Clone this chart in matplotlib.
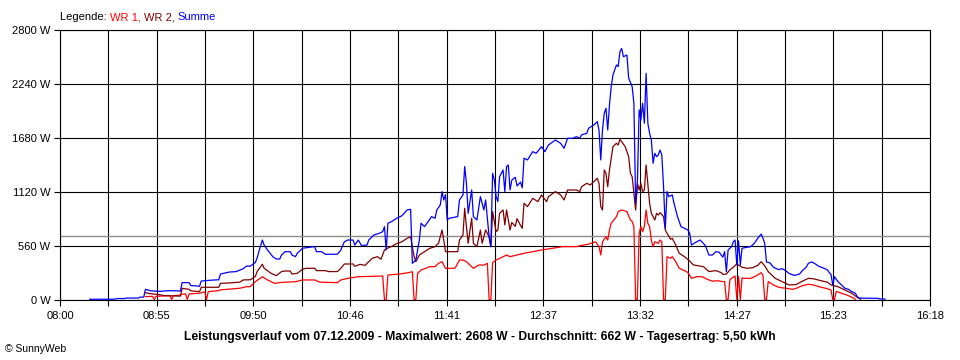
import matplotlib
matplotlib.use("Agg")
import matplotlib.pyplot as plt
import numpy as np

plt.rcParams['font.family'] = ['Liberation Sans', 'DejaVu Sans']

# ---------------- data ----------------
x_tick_labels = ["08:00", "08:55", "09:50", "10:46", "11:41",
                 "12:37", "13:32", "14:27", "15:23", "16:18"]
y_ticks = [0, 560, 1120, 1680, 2240, 2800]
y_tick_labels = ["0 W", "560 W", "1120 W", "1680 W", "2240 W", "2800 W"]
avg_w = 662
title = ("Leistungsverlauf vom 07.12.2009 - Maximalwert: 2608 W - "
         "Durchschnitt: 662 W - Tagesertrag: 5,50 kWh")

summe = [("08:17",2),("08:31",3),("08:33",10),("08:37",10),("08:38",15),("08:45",15),
 ("08:46",25),("08:48",25),("08:49",106),("08:52",90),("08:57",85),("09:03",92),("09:09",88),
 ("09:10",175),("09:14",175),("09:15",145),("09:20",138),("09:21",192),("09:26",200),("09:31",205),
 ("09:32",265),("09:37",285),("09:41",290),("09:45",320),("09:47",348),("09:49",345),("09:52",385),
 ("09:53",430),("09:54",497),("09:56",618),("09:57",566),("09:59",514),("10:02",445),("10:04",421),
 ("10:06",421),("10:07",462),("10:09",497),("10:12",497),("10:13",462),("10:15",445),("10:16",480),
 ("10:19",532),("10:20",535),("10:26",550),("10:27",497),("10:30",497),("10:32",470),("10:39",470),
 ("10:41",514),("10:43",600),("10:45",618),("10:48",618),("10:49",566),("10:51",618),("10:53",556),
 ("10:55",566),("10:56",566),("10:57",618),("11:00",670),("11:03",688),("11:05",705),("11:06",757),
 ("11:07",514),("11:08",792),("11:10",809),("11:13",844),("11:16",870),("11:19",930),("11:21",937),
 ("11:22",376),("11:24",410),("11:26",618),("11:27",792),("11:29",757),("11:31",809),("11:33",861),
 ("11:35",844),("11:36",930),("11:38",982),("11:39",1121),("11:40",1034),("11:41",1090),("11:42",826),
 ("11:43",844),("11:48",861),("11:49",1034),("11:51",1086),("11:52",1381),("11:53",1207),("11:54",895),
 ("11:56",1138),("11:57",861),("11:59",826),("12:01",1069),("12:03",930),("12:04",1034),("12:06",652),
 ("12:07",549),("12:08",1311),("12:09",1242),("12:10",1069),("12:11",1017),("12:12",1276),("12:14",1346),
 ("12:15",1121),("12:16",1381),("12:17",1398),("12:18",1138),("12:19",1240),("12:21",1270),("12:22",1180),
 ("12:24",1220),("12:25",1160),("12:26",1467),("12:28",1450),("12:31",1536),("12:33",1519),("12:36",1588),
 ("12:38",1536),("12:40",1605),("12:44",1657),("12:47",1623),("12:49",1571),("12:51",1675),("12:54",1675),
 ("12:56",1692),("12:58",1675),("12:59",1710),("13:02",1727),("13:03",1779),("13:06",1813),("13:08",1848),
 ("13:09",1761),("13:10",1450),("13:11",1761),("13:12",1935),("13:13",1987),("13:14",1761),("13:15",2021),
 ("13:16",2212),("13:17",2333),("13:19",2437),("13:20",2420),("13:21",2575),("13:22",2608),("13:23",2523),
 ("13:25",2540),("13:26",2300),("13:28",2212),("13:29",2038),("13:30",1000),("13:31",1207),("13:32",1970),
 ("13:33",1865),("13:34",2038),("13:35",1831),("13:36",2350),("13:37",1831),("13:38",1727),("13:39",1657),
 ("13:40",1415),("13:41",1519),("13:42",1484),("13:43",1502),("13:44",1553),("13:45",1502),("13:46",1172),
 ("13:47",740),("13:48",1121),("13:49",1069),("13:51",1086),("13:52",1000),("13:54",861),("13:56",757),
 ("13:58",740),("14:00",722),("14:01",688),("14:02",566),("14:05",600),("14:07",618),("14:09",580),
 ("14:10",560),("14:12",462),("14:14",462),("14:16",497),("14:18",490),("14:19",462),("14:20",440),
 ("14:21",497),("14:22",289),("14:23",514),("14:25",549),("14:26",600),("14:27",618),("14:28",358),
 ("14:29",610),("14:30",358),("14:31",532),("14:33",540),("14:36",549),("14:38",583),("14:40",636),
 ("14:42",680),("14:43",636),("14:44",583),("14:45",390),("14:47",380),("14:49",335),("14:52",310),
 ("14:54",320),("14:56",300),("14:58",270),("15:01",250),("15:04",265),("15:05",289),("15:08",341),
 ("15:09",376),("15:11",390),("15:13",370),("15:15",345),("15:18",324),("15:20",307),("15:21",279),
 ("15:22",260),("15:23",150),("15:24",237),("15:25",210),("15:26",186),("15:28",151),("15:30",116),
 ("15:32",106),("15:34",81),("15:36",64),("15:37",30),("15:38",15),("15:49",12),("15:50",5),("15:53",5)]

wr2 = [("08:49",70),("08:52",60),("08:57",50),("09:00",40),("09:09",35),("09:10",116),("09:14",106),
 ("09:15",90),("09:20",82),("09:21",127),("09:31",127),("09:32",168),("09:37",172),("09:43",180),
 ("09:45",203),("09:49",205),("09:50",215),("09:52",240),("09:53",290),("09:56",366),("09:57",325),
 ("10:01",272),("10:04",248),("10:07",290),("10:09",296),("10:12",296),("10:13",265),("10:16",272),
 ("10:19",314),("10:21",324),("10:26",324),("10:27",300),("10:32",300),("10:34",290),("10:39",290),
 ("10:41",324),("10:43",369),("10:48",369),("10:49",345),("10:52",365),("10:55",355),("10:56",376),
 ("10:59",428),("11:02",445),("11:04",418),("11:06",514),("11:08",535),("11:10",550),("11:13",580),
 ("11:16",600),("11:19",636),("11:21",652),("11:23",445),("11:24",393),("11:26",462),("11:29",497),
 ("11:32",532),("11:35",549),("11:37",584),("11:39",722),("11:40",618),("11:41",497),("11:48",497),
 ("11:49",618),("11:51",670),("11:52",948),("11:53",757),("11:54",584),("11:56",844),("11:57",584),
 ("11:59",549),("12:01",722),("12:02",584),("12:04",722),("12:06",652),("12:07",549),("12:08",913),
 ("12:10",705),("12:11",722),("12:12",895),("12:14",930),("12:15",775),("12:16",930),("12:18",722),
 ("12:19",800),("12:21",760),("12:22",840),("12:24",770),("12:25",740),("12:26",1000),("12:28",965),
 ("12:31",1051),("12:34",1017),("12:36",1086),("12:39",1017),("12:40",1069),("12:44",1121),("12:47",1086),
 ("12:49",1034),("12:51",1138),("12:54",1138),("12:56",1138),("12:58",1121),("12:59",1172),("13:02",1207),
 ("13:04",1190),("13:06",1224),("13:08",1259),("13:09",1207),("13:10",965),("13:11",930),("13:12",1346),
 ("13:13",1311),("13:14",1172),("13:15",1346),("13:16",1467),("13:17",1588),("13:19",1623),("13:20",1605),
 ("13:21",1664),("13:22",1640),("13:24",1588),("13:26",1484),("13:27",1311),("13:28",1276),("13:29",1103),
 ("13:30",930),("13:31",1207),("13:32",1138),("13:33",1207),("13:34",1121),("13:35",1138),("13:36",1398),
 ("13:37",1200),("13:38",1000),("13:39",895),("13:41",826),("13:42",895),("13:43",878),("13:44",902),
 ("13:46",861),("13:47",722),("13:48",688),("13:50",626),("13:51",636),("13:53",566),("13:55",480),
 ("13:58",445),("14:01",400),("14:03",360),("14:06",350),("14:09",340),("14:12",290),("14:16",300),
 ("14:19",280),("14:20",260),("14:22",265),("14:24",307),("14:26",335),("14:28",370),("14:31",335),
 ("14:34",324),("14:37",330),("14:40",355),("14:42",393),("14:44",350),("14:46",290),("14:50",220),
 ("14:54",185),("14:58",151),("15:02",155),("15:05",185),("15:09",220),("15:12",215),("15:17",192),
 ("15:20",180),("15:22",151),("15:26",133),("15:30",99),("15:34",64),("15:36",36),("15:38",12),("15:39",3)]

wr1 = [("08:49",30),("08:53",33),("08:54",0),("08:55",33),("09:00",38),("09:03",40),("09:04",0),
 ("09:05",40),("09:09",45),("09:10",55),("09:12",58),("09:13",0),("09:14",58),("09:17",62),("09:20",65),
 ("09:23",80),("09:24",0),("09:25",82),("09:31",92),("09:32",100),("09:43",117),("09:47",133),("09:49",133),
 ("09:52",185),("09:56",237),("09:59",203),("10:03",168),("10:07",178),("10:15",185),("10:19",203),
 ("10:26",203),("10:29",180),("10:39",175),("10:41",203),("10:45",220),("10:51",237),("10:57",240),
 ("11:05",244),("11:06",0),("11:07",0),("11:08",255),("11:15",265),("11:20",280),("11:22",289),("11:23",0),
 ("11:24",0),("11:25",272),("11:27",307),("11:32",341),("11:35",341),("11:37",376),("11:39",393),
 ("11:41",324),("11:46",324),("11:47",341),("11:49",410),("11:51",410),("11:53",393),("11:55",358),
 ("11:57",324),("12:00",358),("12:03",358),("12:05",376),("12:06",0),("12:07",0),("12:08",383),
 ("12:10",410),("12:14",445),("12:16",462),("12:18",445),("12:22",462),("12:26",480),("12:31",497),
 ("12:36",514),("12:42",532),("12:48",549),("12:56",549),("13:00",566),("13:03",575),("13:07",600),
 ("13:09",549),("13:10",462),("13:11",600),("13:13",652),("13:14",618),("13:15",722),("13:16",792),
 ("13:19",861),("13:20",913),("13:22",930),("13:25",913),("13:27",826),("13:28",810),("13:29",757),
 ("13:30",0),("13:31",0),("13:32",688),("13:33",757),("13:34",705),("13:35",757),("13:36",930),
 ("13:37",792),("13:38",757),("13:39",618),("13:40",549),("13:41",600),("13:43",584),("13:44",618),
 ("13:45",600),("13:46",0),("13:47",0),("13:48",445),("13:50",428),("13:51",445),("13:53",393),
 ("13:55",324),("13:58",300),("14:00",280),("14:02",220),("14:05",237),("14:08",237),("14:11",210),
 ("14:14",190),("14:17",195),("14:20",186),("14:21",186),("14:22",0),("14:23",0),("14:24",203),
 ("14:25",220),("14:27",244),("14:28",0),("14:29",240),("14:30",0),("14:31",225),("14:32",220),
 ("14:36",220),("14:39",244),("14:42",279),("14:43",250),("14:44",0),("14:45",0),("14:46",186),
 ("14:49",151),("14:52",127),("14:56",116),("15:00",106),("15:02",116),("15:05",140),("15:09",158),
 ("15:12",151),("15:15",133),("15:19",116),("15:22",99),("15:23",0),("15:24",0),("15:25",85),
 ("15:28",64),("15:31",47),("15:34",23),("15:36",3)]

# ---------------- helpers ----------------
def to_min(s):
    h, m = s.split(":")
    return int(h) * 60 + int(m)

def split(series):
    t = np.array([to_min(a) for a, _ in series], dtype=float)
    w = np.array([b for _, b in series], dtype=float)
    return t, w

x_start = to_min(x_tick_labels[0])
x_end = x_start + 498.75

W, H = 960, 360
fig = plt.figure(figsize=(W / 100, H / 100), dpi=100, facecolor="white")
ax = fig.add_axes([60 / W, 60.5 / H, 870 / W, 269.5 / H])
ax.set_facecolor("white")

ax.set_xlim(x_start, x_end)
ax.set_ylim(0, 2800)

major = np.linspace(x_start, x_end, len(x_tick_labels))
minor = (major[:-1] + major[1:]) / 2
ax.set_xticks(major)
ax.set_xticklabels(x_tick_labels)
ax.set_xticks(minor, minor=True)
ax.set_yticks(y_ticks)
ax.set_yticklabels(y_tick_labels)

ax.grid(True, which="both", axis="x", color="black", lw=0.8)
ax.grid(True, which="major", axis="y", color="black", lw=0.8)
ax.set_axisbelow(True)
for sp in ax.spines.values():
    sp.set_color("black")
    sp.set_linewidth(0.8)

ax.tick_params(axis="x", which="both", direction="out", length=4, width=0.8,
               color="black", labelsize=8, pad=4)
ax.tick_params(axis="y", which="major", direction="out", length=4, width=0.8,
               color="black", labelsize=8, pad=3)

ax.axhline(avg_w, color="#8c8c8c", lw=1.0, zorder=1.6)

for series, col in [(wr1, "#ff0000"), (wr2, "#800000"), (summe, "#0000ff")]:
    t, w = split(series)
    ax.plot(t, w, color=col, lw=0.9, zorder=3)

# legend as coloured text pieces
leg_parts = [("Legende: ", "black"), ("WR 1, ", "#ff0000"),
             ("WR 2, ", "#800000"), ("Summe", "#0000ff")]
prev = fig.text(60 / W, 1 - 17 / H, leg_parts[0][0], color=leg_parts[0][1],
                fontsize=8, ha="left", va="center")
for txt, col in leg_parts[1:]:
    prev = ax.annotate(txt, xy=(1, 0), xycoords=prev, xytext=(0, 0),
                       textcoords="offset points", color=col, fontsize=8,
                       ha="left", va="bottom", annotation_clip=False)

fig.text(480 / W, 1 - 337 / H, title, fontsize=8.7, fontweight="bold",
         ha="center", va="center")
fig.text(5 / W, 1 - 349 / H, "\u00a9 SunnyWeb", fontsize=7.5,
         ha="left", va="center")

fig.savefig("out.png", dpi=100, facecolor="white")
